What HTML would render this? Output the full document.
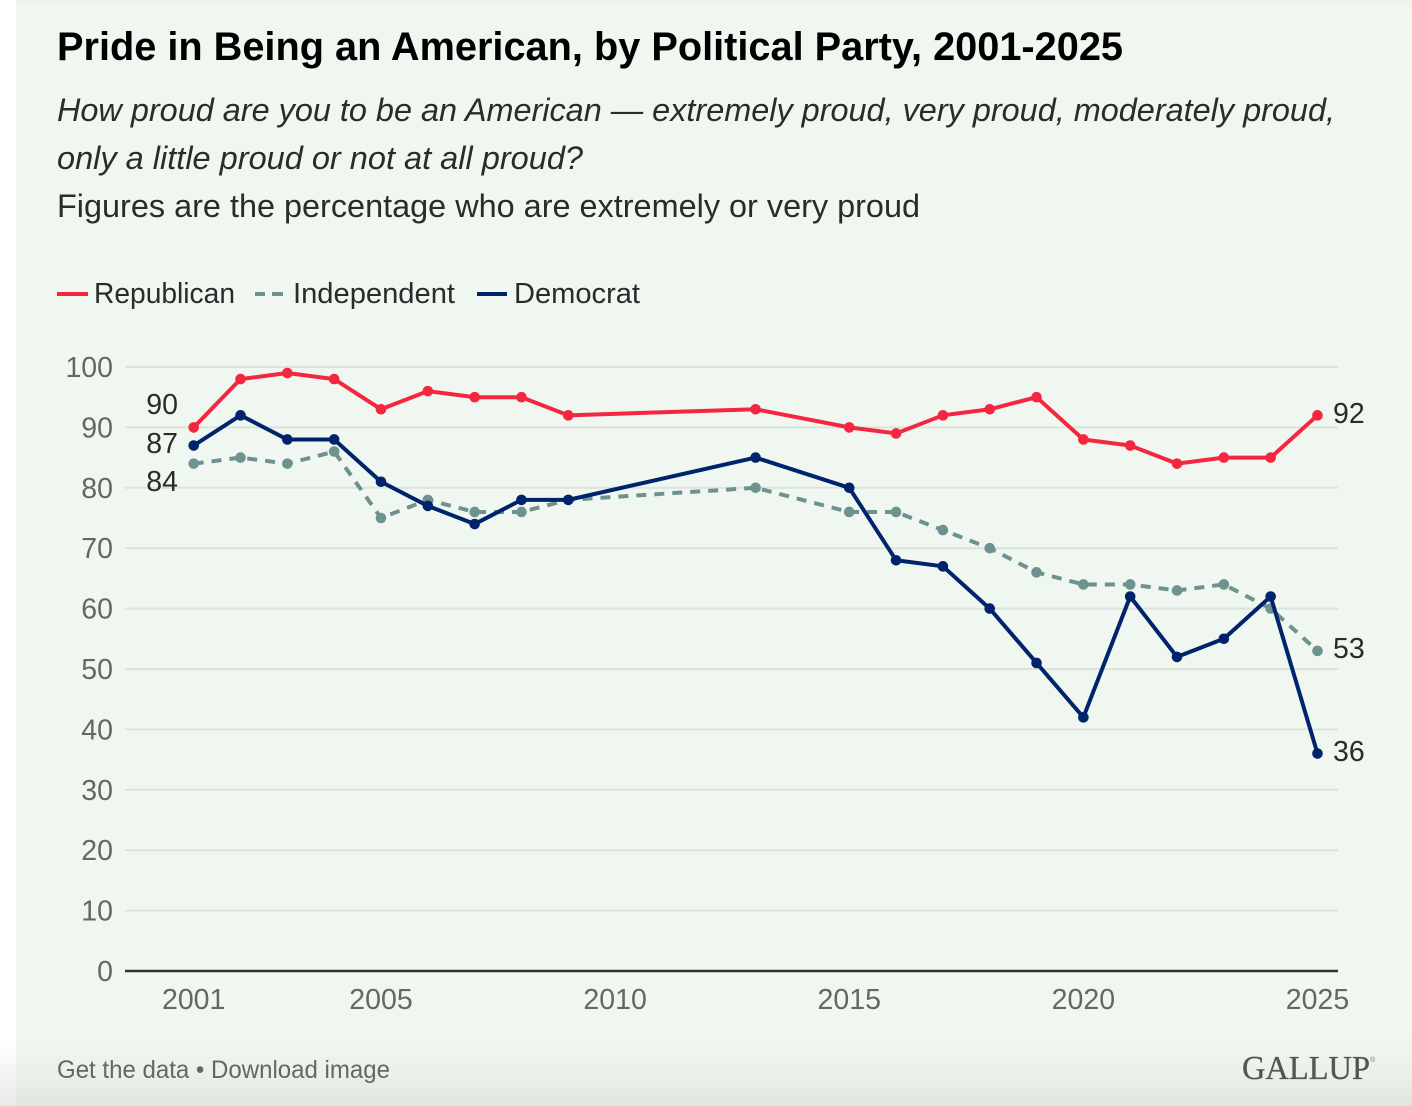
<!DOCTYPE html>
<html lang="en">
<head>
<meta charset="utf-8">
<title>Pride in Being an American, by Political Party, 2001-2025</title>
<style>
html,body{margin:0;padding:0;width:1412px;height:1106px;overflow:hidden;background:#fff;}
#left-strip{position:absolute;left:0;top:0;width:16px;height:1106px;background:linear-gradient(to bottom,#fff 0,#fff 1040px,#e9e9e9 1106px);}
#panel{position:absolute;left:16px;top:0;width:1396px;height:1106px;background:linear-gradient(to bottom,#eef2ee 0,#f0f7f0 4px,#f0f7f0 1035px,#eaf0ea 1075px,#dfe5e0 1106px);}
svg{position:absolute;left:0;top:0;}
text{font-family:"Liberation Sans",sans-serif;}
</style>
</head>
<body>
<div id="left-strip"></div>
<div id="panel"></div>
<svg id="chart" width="1412" height="1106" viewBox="0 0 1412 1106">
  <text x="57" y="60" font-size="40" font-weight="700" fill="#000" textLength="1066" lengthAdjust="spacingAndGlyphs">Pride in Being an American, by Political Party, 2001-2025</text>
  <text x="57" y="121" font-size="32.5" font-style="italic" fill="#2b2b2b" textLength="1278" lengthAdjust="spacingAndGlyphs">How proud are you to be an American — extremely proud, very proud, moderately proud,</text>
  <text x="57" y="169" font-size="32.5" font-style="italic" fill="#2b2b2b" textLength="526" lengthAdjust="spacingAndGlyphs">only a little proud or not at all proud?</text>
  <text x="57" y="217" font-size="32.5" fill="#2b2b2b" textLength="863" lengthAdjust="spacingAndGlyphs">Figures are the percentage who are extremely or very proud</text>

  <g>
    <line x1="57" y1="294" x2="88" y2="294" stroke="#f5263f" stroke-width="4"/>
    <text x="94" y="303" font-size="28.5" fill="#2b2b2b" textLength="141" lengthAdjust="spacingAndGlyphs">Republican</text>
    <line x1="255" y1="294" x2="265" y2="294" stroke="#6e9290" stroke-width="4"/>
    <line x1="272" y1="294" x2="283" y2="294" stroke="#6e9290" stroke-width="4"/>
    <text x="293" y="303" font-size="28.5" fill="#2b2b2b" textLength="162" lengthAdjust="spacingAndGlyphs">Independent</text>
    <line x1="477" y1="294" x2="507" y2="294" stroke="#00246b" stroke-width="4"/>
    <text x="514" y="303" font-size="28.5" fill="#2b2b2b" textLength="126" lengthAdjust="spacingAndGlyphs">Democrat</text>
  </g>

  <g id="grid"></g>
  <g id="y-axis"></g>
  <g id="x-axis"></g>
  <g id="series"></g>
  <g id="labels"></g>

  <text x="57" y="1078" font-size="25" fill="#666" textLength="333" lengthAdjust="spacingAndGlyphs">Get the data • Download image</text>
  <text x="1242" y="1079" font-size="34" fill="#555" stroke="#555" stroke-width="0.3" textLength="128" lengthAdjust="spacingAndGlyphs" style="font-family:'Liberation Serif',serif">GALLUP</text>
  <text x="1370" y="1062" font-size="7" fill="#777">®</text>
</svg>
<script>
const years = [2001,2002,2003,2004,2005,2006,2007,2008,2009,2013,2015,2016,2017,2018,2019,2020,2021,2022,2023,2024,2025];
const republican = [90,98,99,98,93,96,95,95,92,93,90,89,92,93,95,88,87,84,85,85,92];
const independent = [84,85,84,86,75,78,76,76,78,80,76,76,73,70,66,64,64,63,64,60,53];
const democrat = [87,92,88,88,81,77,74,78,78,85,80,68,67,60,51,42,62,52,55,62,36];
const yTicks = [0,10,20,30,40,50,60,70,80,90,100];
const xTicks = [2001,2005,2010,2015,2020,2025];

const NS = 'http://www.w3.org/2000/svg';
function xScale(year){ return 193.7 + (year - 2001) * (1317.5 - 193.7) / 24; }
function yScale(value){ return 971 - value * (971 - 367) / 100; }
function make(tag, attrs, parent, content){
  const el = document.createElementNS(NS, tag);
  for (const k in attrs) el.setAttribute(k, attrs[k]);
  if (content !== undefined) el.textContent = content;
  parent.appendChild(el);
  return el;
}

const grid = document.getElementById('grid');
const yAxis = document.getElementById('y-axis');
const xAxis = document.getElementById('x-axis');
const seriesLayer = document.getElementById('series');
const labelLayer = document.getElementById('labels');

yTicks.forEach(function(t){
  const line = make('line', {x1:125, x2:1338, y1:yScale(t), y2:yScale(t), stroke: t === 0 ? '#333' : '#dce3dc', 'stroke-width': t === 0 ? 2.5 : 2}, grid);
  
  
  const label = make('text', {x:113, y:yScale(t) + 10, 'text-anchor':'end', 'font-size':28.5, fill:'#666'}, yAxis, t);
  
  
});

xTicks.forEach(function(t){
  const label = make('text', {x:xScale(t), y:1009, 'text-anchor':'middle', 'font-size':28.5, fill:'#666'}, xAxis, t);
  
  
});

function drawSeries(name, values, color, dash){
  const g = make('g', {}, seriesLayer);
  
  
  const pts = values.map(function(v, i){ return xScale(years[i]) + ',' + yScale(v); }).join(' ');
  const attrs = {points:pts, fill:'none', stroke:color, 'stroke-width':4, 'stroke-linejoin':'round', 'stroke-linecap':'butt'};
  if (dash) attrs['stroke-dasharray'] = dash;
  const line = make('polyline', attrs, g);
  
  
  values.forEach(function(v, i){
    const dot = make('circle', {cx:xScale(years[i]), cy:yScale(v), r:5.3, fill:color}, g);
    
    
  });
}
drawSeries('republican', republican, '#f5263f');
drawSeries('independent', independent, '#6e9290', '10 8');
drawSeries('democrat', democrat, '#00246b');

function endLabels(name, values, startBaseline, endBaseline){
  const first = make('text', {x:178, y:startBaseline, 'text-anchor':'end', 'font-size':28.5, fill:'#2b2b2b'}, labelLayer, values[0]);
  
  
  const last = make('text', {x:1333, y:endBaseline, 'font-size':28.5, fill:'#2b2b2b'}, labelLayer, values[values.length - 1]);
  
  
}
endLabels('republican', republican, 414, 423);
endLabels('democrat', democrat, 453, 761);
endLabels('independent', independent, 491, 658);
</script>
</body>
</html>
